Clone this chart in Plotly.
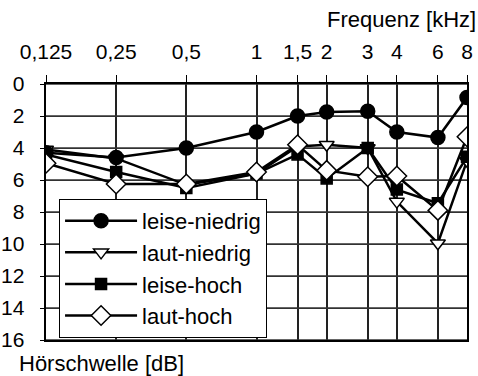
import plotly.graph_objects as go

freq = [0.125, 0.25, 0.5, 1, 1.5, 2, 3, 4, 6, 8]
freq_labels = ["0,125", "0,25", "0,5", "1", "1,5", "2", "3", "4", "6", "8"]
y_ticks = [0, 2, 4, 6, 8, 10, 12, 14, 16]

leise_niedrig = [4.3, 4.6, 4.0, 3.0, 2.0, 1.75, 1.7, 3.0, 3.35, 0.85]
laut_niedrig = [4.1, 4.65, 6.3, 5.6, 3.9, 3.8, 4.0, 7.35, 9.95, 4.8]
leise_hoch = [4.4, 5.5, 6.5, 5.6, 4.4, 5.9, 4.0, 6.6, 7.45, 4.55]
laut_hoch = [4.95, 6.25, 6.25, 5.5, 3.8, 5.4, 5.8, 5.75, 7.9, 3.3]

FONT = "Liberation Sans, Arial, sans-serif"

series = [
    # name, values, symbol, fill, size, legendrank
    ("laut-niedrig", laut_niedrig, "triangle-down", "white", 13, 2),
    ("leise-hoch", leise_hoch, "square", "black", 11, 3),
    ("leise-niedrig", leise_niedrig, "circle", "black", 14, 1),
    ("laut-hoch", laut_hoch, "diamond", "white", 15, 4),
]

fig = go.Figure()

# horizontal grid lines at the y tick values, spanning the frequency range
gx, gy = [], []
for v in y_ticks:
    gx += [freq[0], freq[-1], None]
    gy += [v, v, None]
fig.add_trace(go.Scatter(x=gx, y=gy, mode="lines", showlegend=False,
                         hoverinfo="skip", cliponaxis=False,
                         line=dict(color="#333333", width=1.3)))

for name, vals, sym, fill, size, rank in series:
    fig.add_trace(go.Scatter(
        x=freq, y=vals, name=name, mode="lines+markers",
        line=dict(color="black", width=2.5),
        marker=dict(symbol=sym, color=fill, size=size,
                    line=dict(color="black", width=1.5)),
        legendrank=rank,
    ))

fig.update_layout(
    template="none",
    width=478, height=376, autosize=False,
    margin=dict(l=46, r=11, t=84, b=36),
    paper_bgcolor="white", plot_bgcolor="white",
    font=dict(family=FONT, size=21, color="black"),
    showlegend=True,
    legend=dict(
        x=0.031, y=0.551, xanchor="left", yanchor="top",
        bgcolor="white", bordercolor="black", borderwidth=1,
        font=dict(family=FONT, size=22, color="black"),
        itemwidth=72, tracegroupgap=0,
    ),
    xaxis=dict(
        type="log", side="top",
        range=[0.30103 * -3, 0.30103 * 3],
        tickvals=freq, ticktext=freq_labels,
        showgrid=True, gridcolor="#222222", gridwidth=1.5,
        ticks="outside", ticklen=7, tickcolor="black",
        showline=True, linecolor="black", linewidth=1.5, mirror=True,
        zeroline=False, ticklabelstandoff=8,
        tickfont=dict(family=FONT, size=21),
    ),
    yaxis=dict(
        range=[16, 0], tickmode="array", tickvals=y_ticks,
        ticktext=[f"{v}\u00a0\u00a0" for v in y_ticks],
        showgrid=True, gridcolor="#333333", gridwidth=1.2,
        ticks="outside", ticklen=4, tickcolor="black",
        showline=True, linecolor="black", linewidth=1.5, mirror=True,
        zeroline=False,
        tickfont=dict(family=FONT, size=21),
    ),
    annotations=[
        dict(text="Frequenz [kHz]", xref="paper", yref="paper",
             x=1, y=1, xanchor="right", yanchor="bottom",
             xshift=11, yshift=50, showarrow=False,
             font=dict(family=FONT, size=22)),
        dict(text="Hörschwelle [dB]", xref="paper", yref="paper",
             x=0, y=0, xanchor="left", yanchor="top",
             xshift=-29, yshift=-9, showarrow=False,
             font=dict(family=FONT, size=22)),
    ],
)

fig.write_html("out.html", post_script="document.body.style.margin='0';",
               config={"displayModeBar": False})
